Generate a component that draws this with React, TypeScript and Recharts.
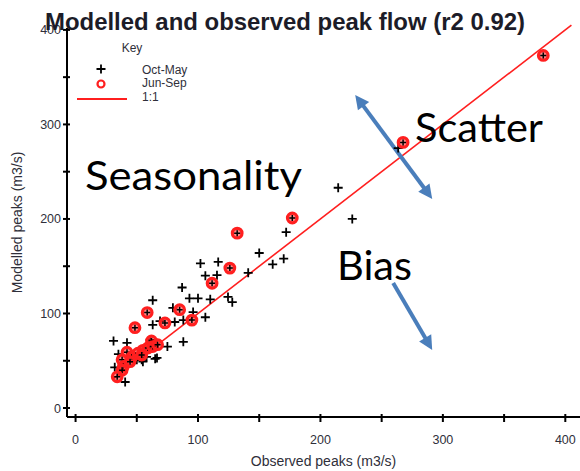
import React from "react";
import { ScatterChart, Scatter, XAxis, YAxis, ReferenceLine } from "recharts";

// observed vs modelled peaks (m3/s)
const OCT_MAY: [number, number][] = [
  [263.5, 275], [214.5, 233], [226, 200], [172, 186], [150, 164], [161, 152],
  [170, 158], [141, 143], [102, 153], [116.5, 154.5], [106, 140], [115.5, 140.5],
  [87, 127.5], [93, 116], [100, 116], [110, 115], [124.5, 117.5], [128, 112],
  [63, 114], [79.5, 106], [96, 101.5], [106, 96], [88, 93], [81, 91], [69, 92],
  [63, 88], [31, 71], [42, 69], [61, 72], [75, 65], [88, 70], [35, 57], [32, 43],
  [40.5, 27.5], [66.5, 53], [54, 51], [50, 51], [58, 54], [55, 49], [65, 52],
];

const JUN_SEP: [number, number][] = [
  [382, 373], [267.5, 281], [177, 201], [132, 185], [126, 148], [111.5, 132],
  [95, 93], [85, 104], [73, 90], [58.5, 101], [48.5, 85], [62, 71], [42, 59],
  [46, 54], [51, 58], [55, 61], [59, 63.5], [63, 65], [67, 67], [38, 51],
  [39, 44], [38, 40], [34, 33], [44.5, 49], [54, 56],
];

const ONE_TO_ONE = [30, 405];
const X_TICKS = [0, 50, 100, 150, 200, 250, 300, 350, 400];
const Y_TICKS = [0, 50, 100, 150, 200, 250, 300, 350, 400];

// annotation arrows in data units: [x1, y1, x2, y2]
const SCATTER_ARROW = [228.4, 331.2, 291.3, 221.2];
const BIAS_ARROW = [259.4, 132.3, 291.3, 61.4];

const FONT = "'Liberation Sans', Arial, sans-serif";
const TEXT = "#2f2f3a";
const RED = "#ff1f1f";
const BLUE = "#4a7ebb";

const toPoints = (rows: [number, number][]) => rows.map(([x, y]) => ({ x, y }));

const XTick = ({ x, y, payload }: any) => (
  <g>
    <line x1={x} x2={x} y1={y - 3} y2={y + 5} stroke="#000" strokeWidth={2} />
    {payload.value % 100 === 0 && (
      <text x={x} y={y + 27} textAnchor="middle" fontSize={12.5} fontFamily={FONT} fill={TEXT}>
        {payload.value}
      </text>
    )}
  </g>
);

const YTick = ({ x, y, payload }: any) => (
  <g>
    <line x1={x - 4} x2={x + 3} y1={y} y2={y} stroke="#000" strokeWidth={2} />
    {payload.value % 100 === 0 && (
      <text x={x - 6} y={y + 4.5} textAnchor="end" fontSize={12.5} fontFamily={FONT} fill={TEXT}>
        {payload.value}
      </text>
    )}
  </g>
);

const Plus = ({ cx, cy }: any) => (
  <path d={`M${cx - 4.5},${cy}H${cx + 4.5}M${cx},${cy - 4.5}V${cy + 4.5}`} stroke="#000" strokeWidth={1.8} />
);

const Ring = ({ cx, cy }: any) => (
  <g>
    <circle cx={cx} cy={cy} r={4.8} fill="rgba(255,40,40,0.55)" stroke={RED} strokeWidth={3.2} />
    <path d={`M${cx - 3},${cy}H${cx + 3}M${cx},${cy - 3}V${cy + 3}`} stroke="#000" strokeWidth={1.5} />
  </g>
);

const arrow = (both: boolean) => (p: any) => {
  const { x1, y1, x2, y2 } = p;
  const len = Math.hypot(x2 - x1, y2 - y1);
  const ux = (x2 - x1) / len;
  const uy = (y2 - y1) / len;
  const L = 14;
  const W = 7;
  const head = (tx: number, ty: number, dx: number, dy: number) =>
    `${tx},${ty} ${tx - dx * L - dy * W},${ty - dy * L + dx * W} ${tx - dx * L + dy * W},${ty - dy * L - dx * W}`;
  return (
    <g>
      <line
        x1={both ? x1 + ux * (L - 2) : x1}
        y1={both ? y1 + uy * (L - 2) : y1}
        x2={x2 - ux * (L - 2)}
        y2={y2 - uy * (L - 2)}
        stroke={BLUE}
        strokeWidth={4}
      />
      <polygon points={head(x2, y2, ux, uy)} fill={BLUE} />
      {both && <polygon points={head(x1, y1, -ux, -uy)} fill={BLUE} />}
    </g>
  );
};

export default function App() {
  return (
    <div style={{ position: "absolute", left: 0, top: 0, width: 580, height: 471, background: "#fff" }}>
      <ScatterChart width={580} height={471} margin={{ top: 28, right: 0, bottom: 0, left: 0 }}>
        <XAxis
          type="number"
          dataKey="x"
          domain={[-7, 412]}
          allowDataOverflow
          ticks={X_TICKS}
          interval={0}
          tick={<XTick />}
          tickLine={false}
          tickSize={0}
          tickMargin={0}
          height={54}
          axisLine={{ stroke: "#000", strokeWidth: 2 }}
          label={{ value: "Observed peaks (m3/s)", position: "insideBottom", offset: 5, style: { fontSize: 14, fill: TEXT, fontFamily: FONT } }}
        />
        <YAxis
          type="number"
          dataKey="y"
          domain={[-9.5, 402]}
          allowDataOverflow
          ticks={Y_TICKS}
          interval={0}
          tick={<YTick />}
          tickLine={false}
          tickSize={0}
          tickMargin={0}
          width={67}
          axisLine={{ stroke: "#000", strokeWidth: 2 }}
          label={{ value: "Modelled peaks (m3/s)", angle: -90, position: "insideLeft", offset: 17, style: { fontSize: 14, fill: TEXT, fontFamily: FONT, textAnchor: "middle" } }}
        />
        <ReferenceLine
          segment={[{ x: ONE_TO_ONE[0], y: ONE_TO_ONE[0] }, { x: ONE_TO_ONE[1], y: ONE_TO_ONE[1] }]}
          stroke={RED}
          strokeWidth={1.6}
          ifOverflow="visible"
        />
        <Scatter data={toPoints(OCT_MAY)} shape={Plus} isAnimationActive={false} />
        <Scatter data={toPoints(JUN_SEP)} shape={Ring} isAnimationActive={false} />
        <ReferenceLine
          segment={[{ x: SCATTER_ARROW[0], y: SCATTER_ARROW[1] }, { x: SCATTER_ARROW[2], y: SCATTER_ARROW[3] }]}
          shape={arrow(true)}
          ifOverflow="visible"
        />
        <ReferenceLine
          segment={[{ x: BIAS_ARROW[0], y: BIAS_ARROW[1] }, { x: BIAS_ARROW[2], y: BIAS_ARROW[3] }]}
          shape={arrow(false)}
          ifOverflow="visible"
        />
      </ScatterChart>

      <svg width={580} height={471} style={{ position: "absolute", left: 0, top: 0, pointerEvents: "none" }}>
        <text x={45} y={30} fontSize={24} fontWeight="bold" fontFamily={FONT} fill="#1c1c28" textLength={480} lengthAdjust="spacingAndGlyphs">
          Modelled and observed peak flow (r2 0.92)
        </text>

        <g fontFamily={FONT} fontSize={12} fill={TEXT}>
          <text x={132} y={52} textAnchor="middle">Key</text>
          <text x={142} y={73.5}>Oct-May</text>
          <text x={142} y={87}>Jun-Sep</text>
          <text x={142} y={101}>1:1</text>
        </g>
        <path d="M96.5,69H105.5M101,64.5V73.5" stroke="#000" strokeWidth={1.8} />
        <circle cx={101} cy={84} r={3.5} fill="none" stroke={RED} strokeWidth={2.2} />
        <line x1={77} x2={127} y1={99} y2={99} stroke={RED} strokeWidth={2} />

        <g fontFamily="Lato, 'Open Sans', sans-serif" fontSize={40} fill="#000">
          <text x={415} y={142} textLength={128} lengthAdjust="spacingAndGlyphs">Scatter</text>
          <text x={85} y={190} textLength={217} lengthAdjust="spacingAndGlyphs">Seasonality</text>
          <text x={337} y={280} textLength={75} lengthAdjust="spacingAndGlyphs">Bias</text>
        </g>
      </svg>
    </div>
  );
}
